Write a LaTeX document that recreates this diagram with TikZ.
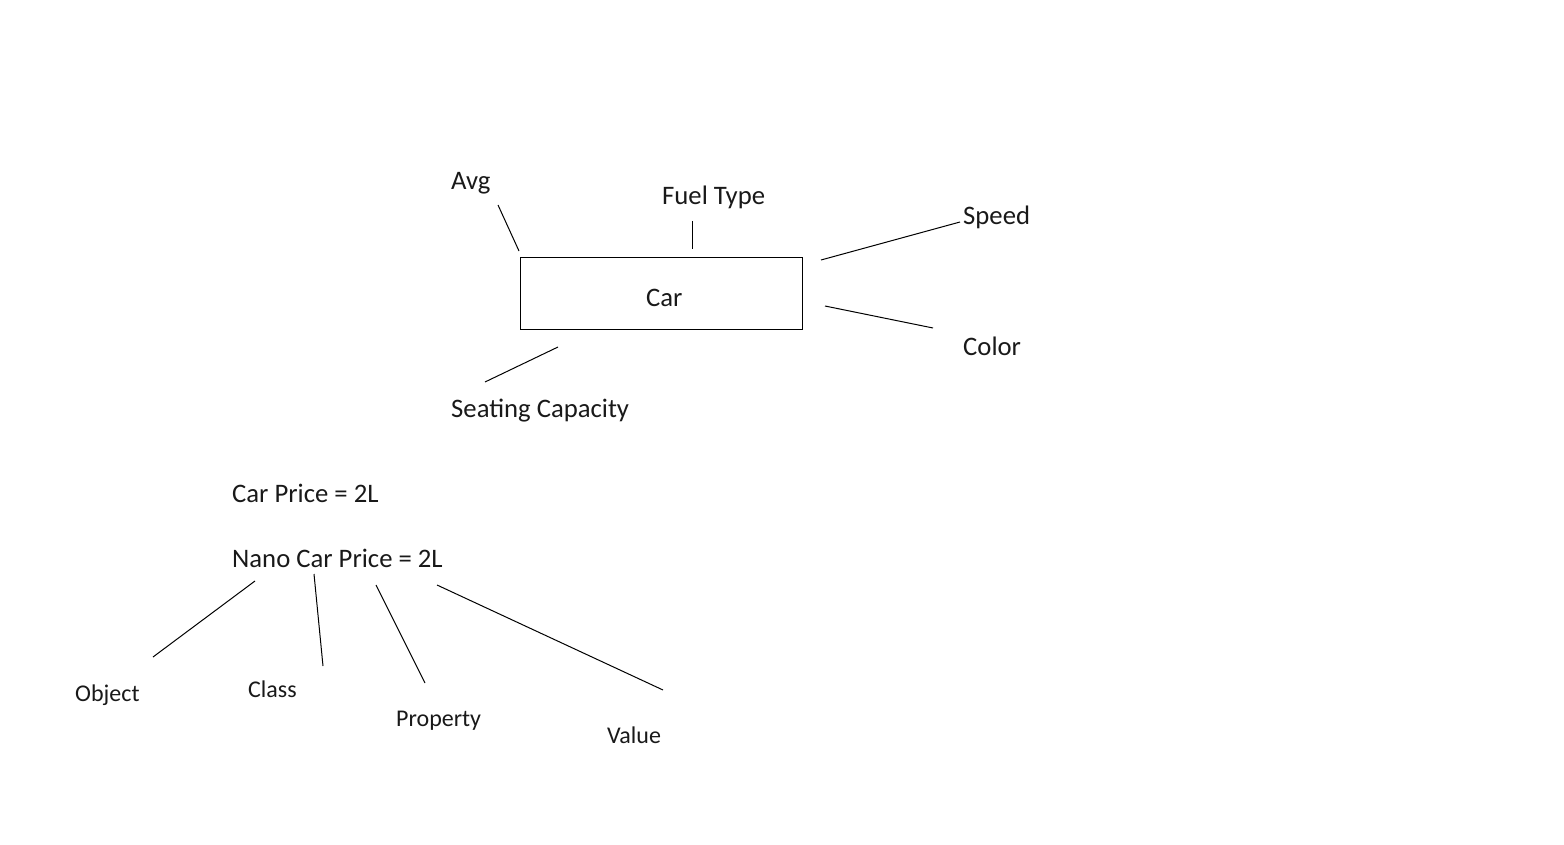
\documentclass[tikz,border=0pt]{standalone}
\usepackage{fontspec}
\setmainfont{Carlito}
\begin{document}
\begin{tikzpicture}[x=1pt,y=-1pt,
  big/.style={inner sep=0pt,anchor=base west,font=\fontsize{26.7}{32}\selectfont,text=black!90},
  small/.style={inner sep=0pt,anchor=base west,font=\fontsize{24}{29}\selectfont,text=black!90},
  conn/.style={line width=1pt,black}]
\useasboundingbox (0,0) rectangle (1564,845);
% box
\draw[line width=1pt] (520,258) rectangle (802,329);
\node[big] (car) at (646,306) {Car};
% labels
\node[big] (avg) at (451,190) {Avg};
\node[big] (fuel) at (662,205) {Fuel Type};
\node[big] (speed) at (963,225) {Speed};
\node[big] (color) at (963,355) {Color};
\node[big] (seat) at (451,417) {Seating Capacity};
\node[big] (cp) at (232,502) {Car Price = 2L};
\node[big] (ncp) at (232,567) {Nano Car Price = 2L};
\node[small] (obj) at (75,701) {Object};
\node[small] (cls) at (248,697) {Class};
\node[small] (prop) at (396,726) {Property};
\node[small] (val) at (607,743) {Value};
% connector end points
\coordinate (a1) at (498,205); \coordinate (a2) at (519,251);
\coordinate (f1) at (692,221); \coordinate (f2) at (692,249);
\coordinate (s1) at (821,260); \coordinate (s2) at (960,222);
\coordinate (c1) at (825,306); \coordinate (c2) at (933,328);
\coordinate (e1) at (558,347); \coordinate (e2) at (485,382);
\coordinate (o1) at (255,581); \coordinate (o2) at (153,657);
\coordinate (k1) at (314,574); \coordinate (k2) at (323,666);
\coordinate (p1) at (376,585); \coordinate (p2) at (425,683);
\coordinate (v1) at (437,585); \coordinate (v2) at (663,690);
\draw[conn] (a1) -- (a2);
\draw[conn] (f1) -- (f2);
\draw[conn] (s1) -- (s2);
\draw[conn] (c1) -- (c2);
\draw[conn] (e1) -- (e2);
\draw[conn] (o1) -- (o2);
\draw[conn] (k1) -- (k2);
\draw[conn] (p1) -- (p2);
\draw[conn] (v1) -- (v2);
\end{tikzpicture}
\end{document}
